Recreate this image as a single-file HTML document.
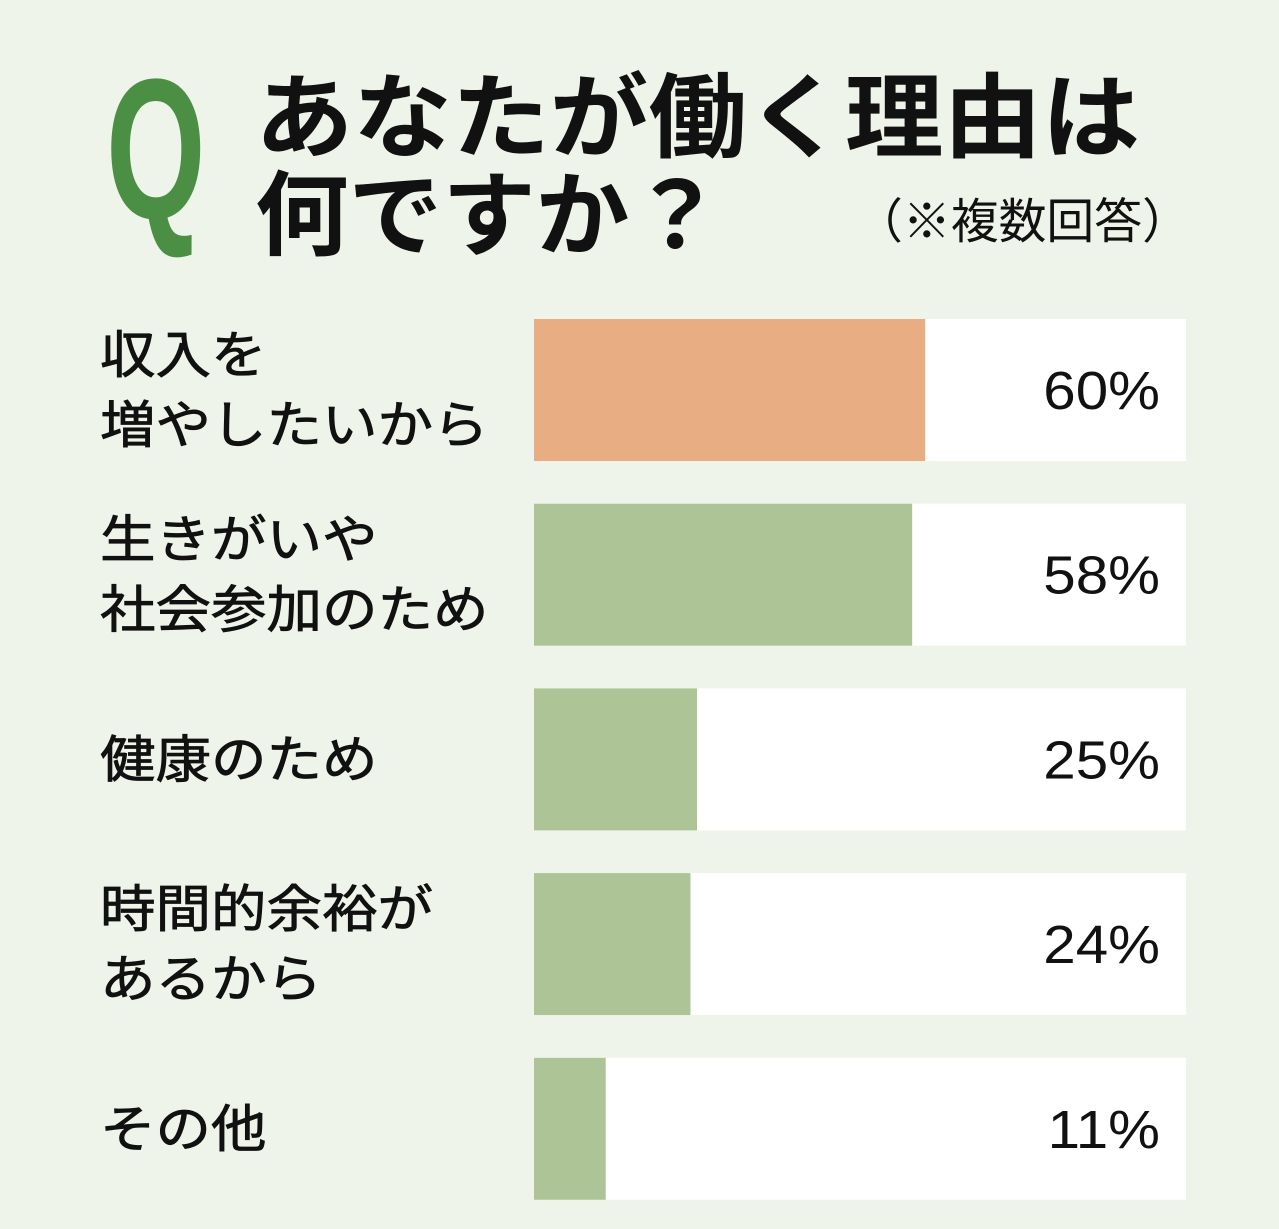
<!DOCTYPE html>
<html><head><meta charset="utf-8"><style>
html,body{margin:0;padding:0;background:#eff4ea;}
svg{display:block;}
text{font-family:"Liberation Sans","Noto Sans CJK JP",sans-serif;}
</style></head><body>
<svg width="1279" height="1229" viewBox="0 0 1279 1229">
<rect width="1279" height="1229" fill="#eff4ea"/>
<text transform="translate(106,218) scale(0.64,1)" font-size="200" font-weight="bold" fill="#4a8f44">Q</text>
<text x="255" y="150" font-size="92" font-weight="bold" fill="#111" textLength="885" lengthAdjust="spacingAndGlyphs">あなたが働く理由は</text>
<text x="255" y="248" font-size="92" font-weight="bold" fill="#111" textLength="468" lengthAdjust="spacingAndGlyphs">何ですか？</text>
<text x="855" y="238" font-size="48" fill="#111" textLength="335" lengthAdjust="spacingAndGlyphs">（※複数回答）</text>
<g id="bars"></g>
</svg>
<script>
const categories=[["収入を","増やしたいから"],["生きがいや","社会参加のため"],["健康のため"],["時間的余裕が","あるから"],["その他"]];
const values=[60,58,25,24,11];
const valueLabels=["60%","58%","25%","24%","11%"];
const highlight=[true,false,false,false,false];
const x0=534,w=652,top0=319,pitch=184.7,bh=142;
const xs=v=>x0+v/100*w;
const ys=i=>top0+i*pitch;
const g=document.getElementById('bars');
const NS='http://www.w3.org/2000/svg';
function mk(t,a){const e=document.createElementNS(NS,t);for(const k in a)e.setAttribute(k,a[k]);g.appendChild(e);return e;}
values.forEach((v,i)=>{
 const y=ys(i);
 const tr=mk('rect',{x:x0,y:y,width:w,height:bh,fill:'#ffffff'});
 
 
 const b=mk('rect',{x:x0,y:y,width:xs(v)-x0,height:bh,fill:highlight[i]?'#e8ad83':'#adc497'});
 
 
 const vt=mk('text',{transform:'translate(1160,'+(y+bh/2+19)+') scale(1.08,1)','font-size':54,'text-anchor':'end',fill:'#111'});
 vt.textContent=valueLabels[i];
 
 
 const lines=categories[i];
 lines.forEach((l,j)=>{
  const off=lines.length===1?18:(j===0?-17:53);
  const t=mk('text',{x:100,y:y+bh/2+off,'font-size':51,fill:'#111','stroke':'#111','stroke-width':0.8,textLength:l.length*55.5,lengthAdjust:'spacingAndGlyphs'});
  t.textContent=l;
  
  
 });
});
</script>
</body></html>
